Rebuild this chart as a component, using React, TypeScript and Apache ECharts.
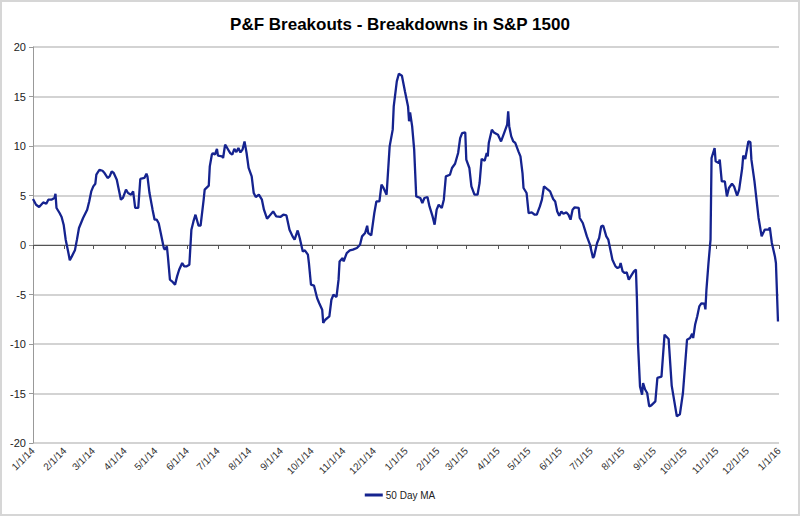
import React, { useEffect, useRef } from "react";
import * as echarts from "echarts";

const TITLE = "P&F Breakouts - Breakdowns in S&P 1500";
const SERIES_NAME = "50 Day MA";
const Y_MIN = -20;
const Y_MAX = 20;
const Y_STEP = 5;
const START_DATE = [2014, 0, 1];
const DAY_COUNT = 731; // 1/1/14 .. 1/1/16

const dates = [
  "1/1/14", "1/4/14", "1/7/14", "1/11/14", "1/14/14", "1/16/14", "1/19/14", "1/22/14", "1/23/14", "1/24/14",
  "1/27/14", "1/29/14", "1/31/14", "2/2/14", "2/5/14", "2/6/14", "2/8/14", "2/11/14", "2/13/14", "2/15/14",
  "2/19/14", "2/23/14", "2/25/14", "2/27/14", "3/1/14", "3/3/14", "3/4/14", "3/7/14", "3/10/14", "3/12/14",
  "3/15/14", "3/17/14", "3/19/14", "3/21/14", "3/24/14", "3/26/14", "3/28/14", "3/30/14", "4/2/14", "4/4/14",
  "4/7/14", "4/9/14", "4/11/14", "4/14/14", "4/16/14", "4/20/14", "4/22/14", "4/23/14", "4/25/14", "4/28/14",
  "4/30/14", "5/2/14", "5/4/14", "5/6/14", "5/9/14", "5/10/14", "5/12/14", "5/13/14", "5/15/14", "5/17/14",
  "5/20/14", "5/22/14", "5/24/14", "5/27/14", "5/29/14", "5/31/14", "6/3/14", "6/5/14", "6/7/14", "6/9/14",
  "6/12/14", "6/14/14", "6/17/14", "6/18/14", "6/22/14", "6/23/14", "6/25/14", "6/26/14", "6/28/14", "6/30/14",
  "7/1/14", "7/5/14", "7/6/14", "7/8/14", "7/10/14", "7/13/14", "7/15/14", "7/17/14", "7/19/14", "7/21/14",
  "7/23/14", "7/25/14", "7/27/14", "7/29/14", "7/31/14", "8/3/14", "8/5/14", "8/7/14", "8/10/14", "8/13/14",
  "8/15/14", "8/18/14", "8/20/14", "8/24/14", "8/27/14", "8/31/14", "9/3/14", "9/6/14", "9/9/14", "9/12/14",
  "9/14/14", "9/17/14", "9/19/14", "9/22/14", "9/24/14", "9/27/14", "9/28/14", "9/30/14", "10/3/14", "10/6/14",
  "10/8/14", "10/11/14", "10/12/14", "10/14/14", "10/18/14", "10/20/14", "10/22/14", "10/25/14", "10/27/14", "10/28/14",
  "10/31/14", "11/1/14", "11/4/14", "11/7/14", "11/10/14", "11/14/14", "11/17/14", "11/19/14", "11/22/14", "11/24/14",
  "11/25/14", "11/28/14", "12/1/14", "12/3/14", "12/6/14", "12/8/14", "12/10/14", "12/13/14", "12/16/14", "12/19/14",
  "12/20/14", "12/23/14", "12/25/14", "12/28/14", "12/31/14", "1/3/15", "1/4/15", "1/5/15", "1/7/15", "1/9/15",
  "1/11/15", "1/15/15", "1/17/15", "1/19/15", "1/22/15", "1/24/15", "1/27/15", "1/29/15", "1/31/15", "2/2/15",
  "2/5/15", "2/7/15", "2/9/15", "2/13/15", "2/15/15", "2/18/15", "2/21/15", "2/23/15", "2/25/15", "2/28/15",
  "3/1/15", "3/4/15", "3/6/15", "3/9/15", "3/12/15", "3/14/15", "3/16/15", "3/19/15", "3/21/15", "3/22/15",
  "3/23/15", "3/26/15", "3/28/15", "4/1/15", "4/4/15", "4/7/15", "4/10/15", "4/11/15", "4/12/15", "4/14/15",
  "4/16/15", "4/18/15", "4/21/15", "4/23/15", "4/25/15", "4/26/15", "4/29/15", "5/1/15", "5/4/15", "5/7/15",
  "5/9/15", "5/12/15", "5/14/15", "5/16/15", "5/19/15", "5/22/15", "5/25/15", "5/27/15", "5/29/15", "5/31/15",
  "6/2/15", "6/4/15", "6/7/15", "6/9/15", "6/11/15", "6/13/15", "6/15/15", "6/19/15", "6/20/15", "6/23/15",
  "6/25/15", "6/27/15", "6/30/15", "7/3/15", "7/4/15", "7/7/15", "7/9/15", "7/11/15", "7/13/15", "7/16/15",
  "7/18/15", "7/20/15", "7/22/15", "7/25/15", "7/27/15", "7/29/15", "7/30/15", "8/1/15", "8/3/15", "8/5/15",
  "8/7/15", "8/10/15", "8/12/15", "8/14/15", "8/15/15", "8/16/15", "8/18/15", "8/20/15", "8/21/15", "8/23/15",
  "8/25/15", "8/27/15", "8/29/15", "9/2/15", "9/4/15", "9/8/15", "9/11/15", "9/15/15", "9/18/15", "9/23/15",
  "9/26/15", "9/29/15", "10/3/15", "10/6/15", "10/8/15", "10/9/15", "10/11/15", "10/13/15", "10/15/15", "10/17/15",
  "10/20/15", "10/21/15", "10/22/15", "10/24/15", "10/26/15", "10/27/15", "10/30/15", "10/31/15", "11/3/15", "11/4/15",
  "11/6/15", "11/9/15", "11/11/15", "11/13/15", "11/16/15", "11/18/15", "11/21/15", "11/23/15", "11/26/15", "11/27/15",
  "11/29/15", "12/2/15", "12/4/15", "12/5/15", "12/8/15", "12/12/15", "12/15/15", "12/18/15", "12/22/15", "12/23/15",
  "12/25/15", "12/28/15", "12/29/15", "12/31/15",
];

const values = [
  4.65, 4.07, 3.84, 4.3, 4.17, 4.58, 4.58, 4.75, 5.18, 3.74,
  3.23, 2.83, 2.05, 0.54, -0.98, -1.55, -1.15, -0.54, 0.54, 1.72,
  2.73, 3.57, 4.4, 5.41, 5.92, 6.19, 7.1, 7.6, 7.5, 7.27,
  6.77, 6.93, 7.43, 7.27, 6.6, 5.59, 4.58, 4.75, 5.59, 5.25,
  5.08, 5.41, 3.74, 3.74, 6.67, 6.77, 7.2, 6.93, 5.25, 3.57,
  2.56, 2.56, 2.2, 1.21, -0.3, -0.47, -0.14, -1.15, -3.5, -3.67,
  -4.0, -3.17, -2.5, -1.82, -2.16, -2.16, -1.99, 1.55, 2.38, 3.06,
  1.95, 1.95, 4.58, 5.59, 5.99, 7.94, 9.12, 9.29, 9.12, 9.7,
  9.02, 8.95, 8.79, 10.13, 9.8, 9.29, 9.12, 9.7, 9.39, 9.8,
  9.35, 9.63, 10.46, 9.29, 7.78, 6.93, 5.25, 4.85, 5.08, 4.58,
  3.57, 2.66, 2.89, 3.39, 2.89, 2.83, 3.06, 2.99, 1.55, 0.87,
  0.54, 1.47, 0.71, -0.65, -0.54, -0.98, -1.82, -4.0, -4.11, -5.35,
  -5.86, -6.54, -7.88, -7.55, -7.21, -5.53, -5.02, -5.25, -3.5, -1.66,
  -1.31, -1.66, -0.81, -0.54, -0.47, -0.3, 0.03, 0.87, 1.21, 1.95,
  1.21, 0.97, 3.23, 4.4, 4.4, 6.09, 5.76, 5.08, 9.96, 11.65,
  14.0, 16.53, 17.3, 17.1, 15.5, 14.0, 12.5, 13.4, 12.0, 9.63,
  4.91, 4.75, 4.24, 4.75, 4.85, 3.9, 2.89, 2.05, 3.57, 4.07,
  3.74, 4.58, 6.93, 7.1, 7.78, 8.21, 9.29, 10.8, 11.31, 11.37,
  8.62, 7.78, 5.92, 5.08, 5.08, 6.26, 8.69, 8.52, 9.29, 8.95,
  10.3, 11.65, 11.37, 11.14, 10.46, 11.31, 12.15, 13.5, 12.0, 10.97,
  10.46, 10.3, 9.46, 8.95, 7.27, 5.76, 5.25, 3.23, 3.29, 3.06,
  3.06, 3.9, 4.58, 5.92, 5.66, 5.41, 4.65, 4.4, 3.39, 2.96,
  3.39, 3.16, 3.29, 3.06, 2.56, 3.57, 3.8, 3.74, 2.73, 2.22,
  1.55, 0.87, 0.03, -1.31, -1.15, 0.2, 0.71, 1.88, 1.95, 0.87,
  0.54, -0.47, -1.48, -2.16, -2.32, -2.22, -1.82, -2.67, -2.83, -2.77,
  -3.5, -3.0, -2.67, -2.49, -5.53, -9.9, -14.28, -15.12, -13.94, -14.6,
  -14.95, -16.3, -16.2, -15.8, -13.43, -13.3, -9.06, -9.5, -14.2, -17.3,
  -17.1, -14.95, -9.57, -9.4, -8.96, -9.4, -8.0, -7.2, -6.2, -5.9,
  -5.93, -6.5, -4.5, -1.82, 0.54, 8.79, 9.8, 8.45, 8.28, 8.62,
  6.43, 6.43, 4.91, 5.76, 6.19, 5.92, 4.98, 5.59, 7.78, 9.02,
  8.69, 10.46, 10.4, 8.62, 6.43, 2.73, 0.87, 1.55, 1.55, 1.78,
  0.2, -1.15, -1.82, -7.72,
];

function buildCategories(): string[] {
  const start = Date.UTC(START_DATE[0], START_DATE[1], START_DATE[2]);
  const out: string[] = [];
  for (let i = 0; i < DAY_COUNT; i++) {
    const d = new Date(start + i * 86400000);
    out.push(`${d.getUTCMonth() + 1}/${d.getUTCDate()}/${String(d.getUTCFullYear()).slice(2)}`);
  }
  return out;
}

const isMonthStart = (_i: number, v: string) => v.split("/")[1] === "1";

export default function App() {
  const ref = useRef<HTMLDivElement>(null);
  useEffect(() => {
    if (!ref.current) return;
    const chart = echarts.init(ref.current, undefined, { renderer: "svg" });
    const categories = buildCategories();
    const lookup = new Map<string, number>();
    dates.forEach((d, i) => lookup.set(d, values[i]));
    const seriesData = categories.map((c) => (lookup.has(c) ? lookup.get(c)! : null));
    const font = "'Liberation Sans', Arial, sans-serif";
    chart.setOption({
      animation: false,
      backgroundColor: "#ffffff",
      title: {
        text: TITLE,
        left: "center",
        top: 11,
        textStyle: { fontFamily: font, fontSize: 17, fontWeight: "bold", color: "#000" },
      },
      legend: {
        bottom: 11,
        left: "center",
        data: [{ name: SERIES_NAME, icon: "rect" }],
        itemWidth: 18,
        itemHeight: 3,
        itemGap: 4,
        textStyle: { fontFamily: font, fontSize: 10, color: "#222", padding: [0, 0, 0, -2] },
      },
      grid: { left: 33, right: 21, top: 47, bottom: 73, containLabel: false },
      xAxis: [
        {
          type: "category",
          data: categories,
          boundaryGap: false,
          position: "bottom",
          axisLine: { show: false, onZero: false },
          axisTick: { show: false },
          axisLabel: {
            interval: isMonthStart,
            rotate: 45,
            fontFamily: font,
            fontSize: 10,
            color: "#333",
            margin: 6,
          },
          splitLine: { show: false },
        },
        {
          type: "category",
          data: categories,
          boundaryGap: false,
          position: "bottom",
          axisLine: { show: true, onZero: true, lineStyle: { color: "#555", width: 1.2 } },
          axisTick: { show: true, interval: isMonthStart, length: 4, lineStyle: { color: "#555" } },
          axisLabel: { show: false },
          splitLine: { show: false },
        },
      ],
      yAxis: {
        type: "value",
        min: Y_MIN,
        max: Y_MAX,
        interval: Y_STEP,
        axisLine: { show: true, lineStyle: { color: "#999" } },
        axisTick: { show: true, length: 4, lineStyle: { color: "#999" } },
        axisLabel: { fontFamily: font, fontSize: 11, color: "#222", margin: 7 },
        splitLine: { show: true, lineStyle: { color: "#c4c4c4", width: 1.5 } },
      },
      series: [
        {
          type: "line",
          name: SERIES_NAME,
          data: seriesData,
          xAxisIndex: 0,
          showSymbol: false,
          symbol: "none",
          connectNulls: true,
          lineStyle: { color: "#15238f", width: 2.3 },
          itemStyle: { color: "#15238f" },
        },
      ],
      graphic: [
        {
          type: "rect",
          silent: true,
          z: -1,
          shape: { x: 1, y: 1, width: 798, height: 514 },
          style: { fill: "none", stroke: "#d6d6d6", lineWidth: 2 },
        },
      ],
    });
    return () => chart.dispose();
  }, []);
  return (
    <div
      ref={ref}
      style={{ position: "fixed", left: 0, top: 0, width: 800, height: 516 }}
    />
  );
}
